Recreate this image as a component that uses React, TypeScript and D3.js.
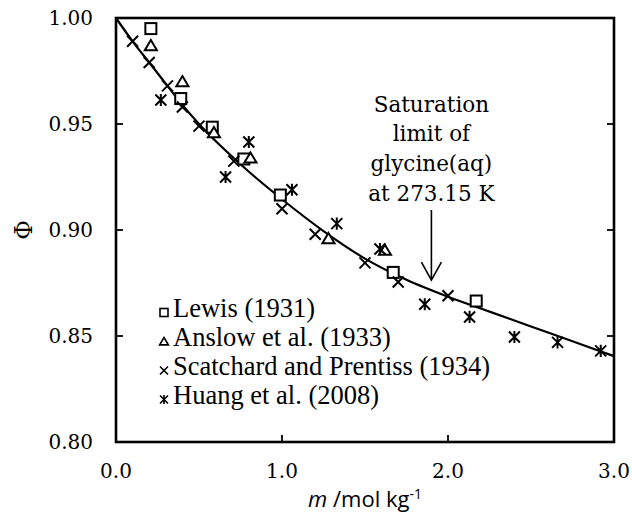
import React, { useEffect, useRef } from 'react';
import * as d3 from 'd3';

// data: osmotic coefficient of glycine(aq)
const lewisM = [0.21, 0.39, 0.58, 0.77, 0.99, 1.67, 2.17];
const lewisPhi = [0.995, 0.962, 0.9485, 0.9335, 0.9165, 0.88, 0.8665];

const anslowM = [0.21, 0.4, 0.59, 0.81, 1.28, 1.62];
const anslowPhi = [0.987, 0.97, 0.946, 0.934, 0.896, 0.8905];

const scatchardM = [0.1, 0.2, 0.31, 0.4, 0.5, 0.71, 1.0, 1.2, 1.5, 1.7, 2.0];
const scatchardPhi = [0.989, 0.979, 0.968, 0.958, 0.949, 0.9325, 0.91, 0.898, 0.8845, 0.8755, 0.869];

const huangM = [0.27, 0.66, 0.8, 1.06, 1.33, 1.59, 1.86, 2.13, 2.4, 2.66, 2.92];
const huangPhi = [0.9613, 0.925, 0.9415, 0.919, 0.903, 0.891, 0.865, 0.859, 0.8495, 0.847, 0.843];

// fitted line, read at regular m
const fitM = [0, 0.1, 0.2, 0.3, 0.4, 0.5, 0.75, 1.0, 1.25, 1.5, 1.75, 2.0, 2.25, 2.5, 2.75, 3.0];
const fitPhi = [1.0, 0.989, 0.979, 0.969, 0.959, 0.95, 0.931, 0.9145, 0.8995, 0.8865, 0.8765, 0.8685, 0.8615, 0.8545, 0.8475, 0.8405];

const xTicks = [0, 1, 2, 3];
const yTicks = [0.8, 0.85, 0.9, 0.95, 1.0];

const seriesNames = ['Lewis (1931)', 'Anslow et al. (1933)', 'Scatchard and Prentiss (1934)', 'Huang et al. (2008)'];
const noteLines = ['Saturation', 'limit of', 'glycine(aq)', 'at 273.15 K'];
const satM = 1.9;

const W = 632, H = 522;
const margin = { left: 116, right: 18, top: 18, bottom: 80 };

function drawMarker(g: any, kind: number, cx: number, cy: number, s: number) {
  const h = s / 2;
  if (kind === 0) {
    g.append('rect').attr('x', cx - h).attr('y', cy - h).attr('width', s).attr('height', s)
      .attr('fill', 'white').attr('stroke', 'black');
  } else if (kind === 1) {
    g.append('path')
      .attr('d', `M${cx},${cy - h}L${cx + h * 1.1},${cy + h * 0.85}L${cx - h * 1.1},${cy + h * 0.85}Z`)
      .attr('fill', 'white').attr('stroke', 'black');
  } else {
    let d = `M${cx - h},${cy - h}L${cx + h},${cy + h}M${cx - h},${cy + h}L${cx + h},${cy - h}`;
    if (kind === 3) d += `M${cx},${cy - h * 1.1}L${cx},${cy + h * 1.1}`;
    g.append('path').attr('d', d).attr('fill', 'none').attr('stroke', 'black');
  }
}

export default function App() {
  const ref = useRef<SVGSVGElement>(null);

  useEffect(() => {
    const svg = d3.select(ref.current);
    svg.selectAll('*').remove();

    const x = d3.scaleLinear().domain([0, 3]).range([margin.left, W - margin.right]);
    const y = d3.scaleLinear().domain([0.8, 1.0]).range([H - margin.bottom, margin.top]);

    const serif = 'DejaVu Serif';

    // frame
    svg.append('rect')
      .attr('x', x(0)).attr('y', y(1)).attr('width', x(3) - x(0)).attr('height', y(0.8) - y(1))
      .attr('fill', 'none').attr('stroke', 'black').attr('stroke-width', 2.6);

    // ticks inward
    const tk = svg.append('g').attr('stroke', 'black').attr('stroke-width', 1.8);
    yTicks.forEach(v => {
      tk.append('line').attr('x1', x(0)).attr('x2', x(0) + 7).attr('y1', y(v)).attr('y2', y(v));
      tk.append('line').attr('x1', x(3)).attr('x2', x(3) - 7).attr('y1', y(v)).attr('y2', y(v));
    });
    xTicks.forEach(v => {
      tk.append('line').attr('x1', x(v)).attr('x2', x(v)).attr('y1', y(0.8)).attr('y2', y(0.8) - 7);
    });

    svg.append('g').selectAll('text').data(yTicks).enter().append('text')
      .attr('x', x(0) - 23).attr('y', d => y(d)).attr('dy', '0.36em')
      .attr('text-anchor', 'end').attr('font-family', serif).attr('font-size', 20)
      .text(d => d3.format('.2f')(d));

    svg.append('g').selectAll('text').data(xTicks).enter().append('text')
      .attr('x', d => x(d)).attr('y', 478)
      .attr('text-anchor', 'middle').attr('font-family', serif).attr('font-size', 20)
      .text(d => d3.format('.1f')(d));

    // axis titles
    const xt = svg.append('text').attr('x', (x(0) + x(3)) / 2).attr('y', 507)
      .attr('text-anchor', 'middle').attr('font-family', 'Open Sans').attr('font-size', 22);
    xt.append('tspan').attr('font-style', 'italic').text('m');
    xt.append('tspan').text(' /mol kg');
    xt.append('tspan').attr('font-size', 14).attr('baseline-shift', '8').text('-1');

    svg.append('text').attr('transform', `translate(23,${y(0.9)}) rotate(-90)`)
      .attr('text-anchor', 'middle').attr('dy', '0.36em')
      .attr('font-family', serif).attr('font-size', 24).text('Φ');

    // fitted curve
    const line = d3.line<number>().x(d => x(d)).y((d, i) => y(fitPhi[i])).curve(d3.curveMonotoneX);
    svg.append('path').attr('d', line(fitM)).attr('fill', 'none').attr('stroke', 'black').attr('stroke-width', 2.2);

    // points
    const sets = [[lewisM, lewisPhi], [anslowM, anslowPhi], [scatchardM, scatchardPhi], [huangM, huangPhi]];
    const pts = svg.append('g').attr('stroke-width', 2);
    sets.forEach((s, k) => {
      s[0].forEach((m, i) => drawMarker(pts, k, x(m), y(s[1][i]), 11));
    });

    // saturation arrow and note
    const ax = x(satM);
    const tipY = y(0.8764), topY = y(0.9094);
    svg.append('path')
      .attr('d', `M${ax},${topY}L${ax},${tipY}M${ax - 10},${tipY - 18}L${ax},${tipY}L${ax + 10},${tipY - 18}`)
      .attr('fill', 'none').attr('stroke', 'black').attr('stroke-width', 1.6);
    svg.append('g').selectAll('text').data(noteLines).enter().append('text')
      .attr('x', ax).attr('y', (d, i) => 111.5 + i * 29.8)
      .attr('text-anchor', 'middle').attr('font-family', serif).attr('font-size', 21.5)
      .text(d => d);

    // legend
    const lg = svg.append('g');
    seriesNames.forEach((name, i) => {
      const by = 317 + i * 29;
      const mg = lg.append('g').attr('stroke-width', 1.6);
      drawMarker(mg, i, 164, by - 4.5, 8);
      lg.append('text').attr('x', 173).attr('y', by)
        .attr('font-family', 'Liberation Serif').attr('font-size', 26.5).text(name);
    });
  }, []);

  return (
    <div style={{ position: 'absolute', left: 0, top: 0 }}>
      <svg ref={ref} width={W} height={H} style={{ background: 'white', display: 'block' }} />
    </div>
  );
}
